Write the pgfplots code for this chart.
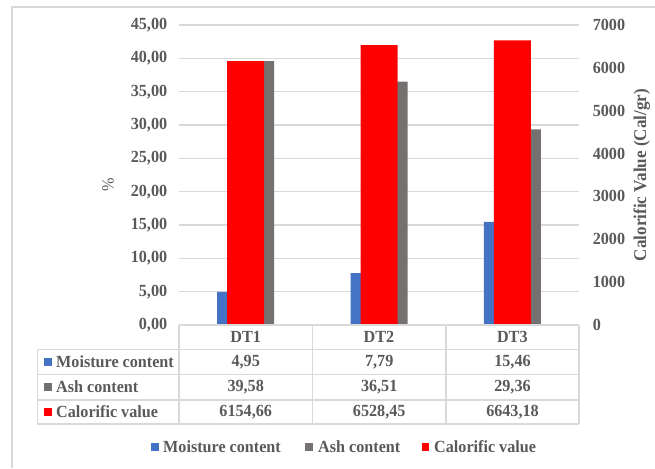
\documentclass[border=0pt]{standalone}
\usepackage{pgfplots}
\pgfplotsset{compat=1.18}
\usepackage{fontspec}
\setmainfont{Liberation Serif}[FakeStretch=0.95]
\definecolor{cblue}{HTML}{4472C4}
\definecolor{cgray}{HTML}{767171}
\definecolor{cred}{HTML}{FF0000}
\definecolor{txt}{HTML}{595959}
\definecolor{gridc}{HTML}{D9D9D9}
\newcommand{\f}{\fontsize{17}{19}\selectfont\bfseries}
\newcommand{\fr}{\fontsize{17}{19}\selectfont}
\newcommand{\ft}{\fontsize{18}{20}\selectfont\bfseries}
\begin{document}
\begin{tikzpicture}
\useasboundingbox (0pt,0pt) rectangle (655pt,468pt);
\draw[gridc, line width=1.2pt] (12pt,0pt) -- (12pt,461pt) -- (655pt,461pt);

\begin{axis}[at={(179pt,143pt)}, anchor=south west, scale only axis,
  width=400pt, height=300pt, xmin=0.5, xmax=3.5, ymin=0, ymax=45,
  xtick={1,2,3}, xticklabels={DT1,DT2,DT3}, ytick={0,5,...,45},
  axis line style={draw=none}, major tick length=0pt,
  ymajorgrids, grid style={draw=gridc, line width=1.2pt},
  ticklabel style={font=\f, text=txt},
  xticklabel style={anchor=center, yshift=-12pt},
  yticklabel style={xshift=-8.3pt},
  /pgf/number format/.cd, fixed, fixed zerofill, precision=2, use comma, assume math mode=true]
\addplot[ybar, bar width=28.5pt, bar shift=-14.25pt, fill=cblue, draw=none] coordinates {(1,4.95) (2,7.79) (3,15.46)};
\addplot[ybar, bar width=28.5pt, bar shift=14.25pt, fill=cgray, draw=none] coordinates {(1,39.58) (2,36.51) (3,29.36)};
\end{axis}

\begin{axis}[at={(179pt,143pt)}, anchor=south west, scale only axis,
  width=400pt, height=300pt, xmin=0.5, xmax=3.5, ymin=0, ymax=7000,
  hide x axis, axis y line*=right, axis line style={draw=none}, major tick length=0pt,
  ytick={0,1000,...,7000},
  ticklabel style={font=\f, text=txt},
  yticklabel style={xshift=10.3pt},
  /pgf/number format/.cd, 1000 sep={}, assume math mode=true]
\addplot[ybar, bar width=37pt, bar shift=0pt, fill=cred, draw=none] coordinates {(1,6154.66) (2,6528.45) (3,6643.18)};
\end{axis}

% data table grid
\draw[gridc, line width=1.2pt] (179pt,143pt) -- (579pt,143pt);
\foreach \yy in {118.7,93.7,68,44} \draw[gridc, line width=1.2pt] (37.3pt,\yy pt) -- (579pt,\yy pt);
\draw[gridc, line width=1.2pt] (37.3pt,44pt) -- (37.3pt,118.7pt);
\foreach \xx in {179,312.3,446,579} \draw[gridc, line width=1.2pt] (\xx pt,44pt) -- (\xx pt,143pt);

% row headers
\fill[cblue] (44pt,102.2pt) rectangle (52pt,110.2pt);
\fill[cgray] (44pt,77pt) rectangle (52pt,85pt);
\fill[cred] (44pt,52pt) rectangle (52pt,60pt);
\node[anchor=west, inner sep=0pt, font=\f, text=txt] at (56pt,106.2pt) {Moisture content};
\node[anchor=west, inner sep=0pt, font=\f, text=txt] at (56pt,81pt) {Ash content};
\node[anchor=west, inner sep=0pt, font=\f, text=txt] at (56pt,56pt) {Calorific value};

% values
\node[font=\f, text=txt] at (245.7pt,106.2pt) {4,95};
\node[font=\f, text=txt] at (379.2pt,106.2pt) {7,79};
\node[font=\f, text=txt] at (512.5pt,106.2pt) {15,46};
\node[font=\f, text=txt] at (245.7pt,81pt) {39,58};
\node[font=\f, text=txt] at (379.2pt,81pt) {36,51};
\node[font=\f, text=txt] at (512.5pt,81pt) {29,36};
\node[font=\f, text=txt] at (245.7pt,56pt) {6154,66};
\node[font=\f, text=txt] at (379.2pt,56pt) {6528,45};
\node[font=\f, text=txt] at (512.5pt,56pt) {6643,18};

% axis titles
\node[rotate=90, font=\fr, text=txt] at (108pt,283pt) {\%};
\node[rotate=90, font=\ft, text=txt] at (641.7pt,293pt) {Calorific Value (Cal/gr)};

% bottom legend
\fill[cblue] (151pt,17.5pt) rectangle (158.5pt,25pt);
\node[anchor=west, inner sep=0pt, font=\f, text=txt] at (163pt,21.3pt) {Moisture content};
\fill[cgray] (305pt,17.5pt) rectangle (312.5pt,25pt);
\node[anchor=west, inner sep=0pt, font=\f, text=txt] at (318pt,21.3pt) {Ash content};
\fill[cred] (421.7pt,17.5pt) rectangle (429.2pt,25pt);
\node[anchor=west, inner sep=0pt, font=\f, text=txt] at (434pt,21.3pt) {Calorific value};
\end{tikzpicture}
\end{document}
